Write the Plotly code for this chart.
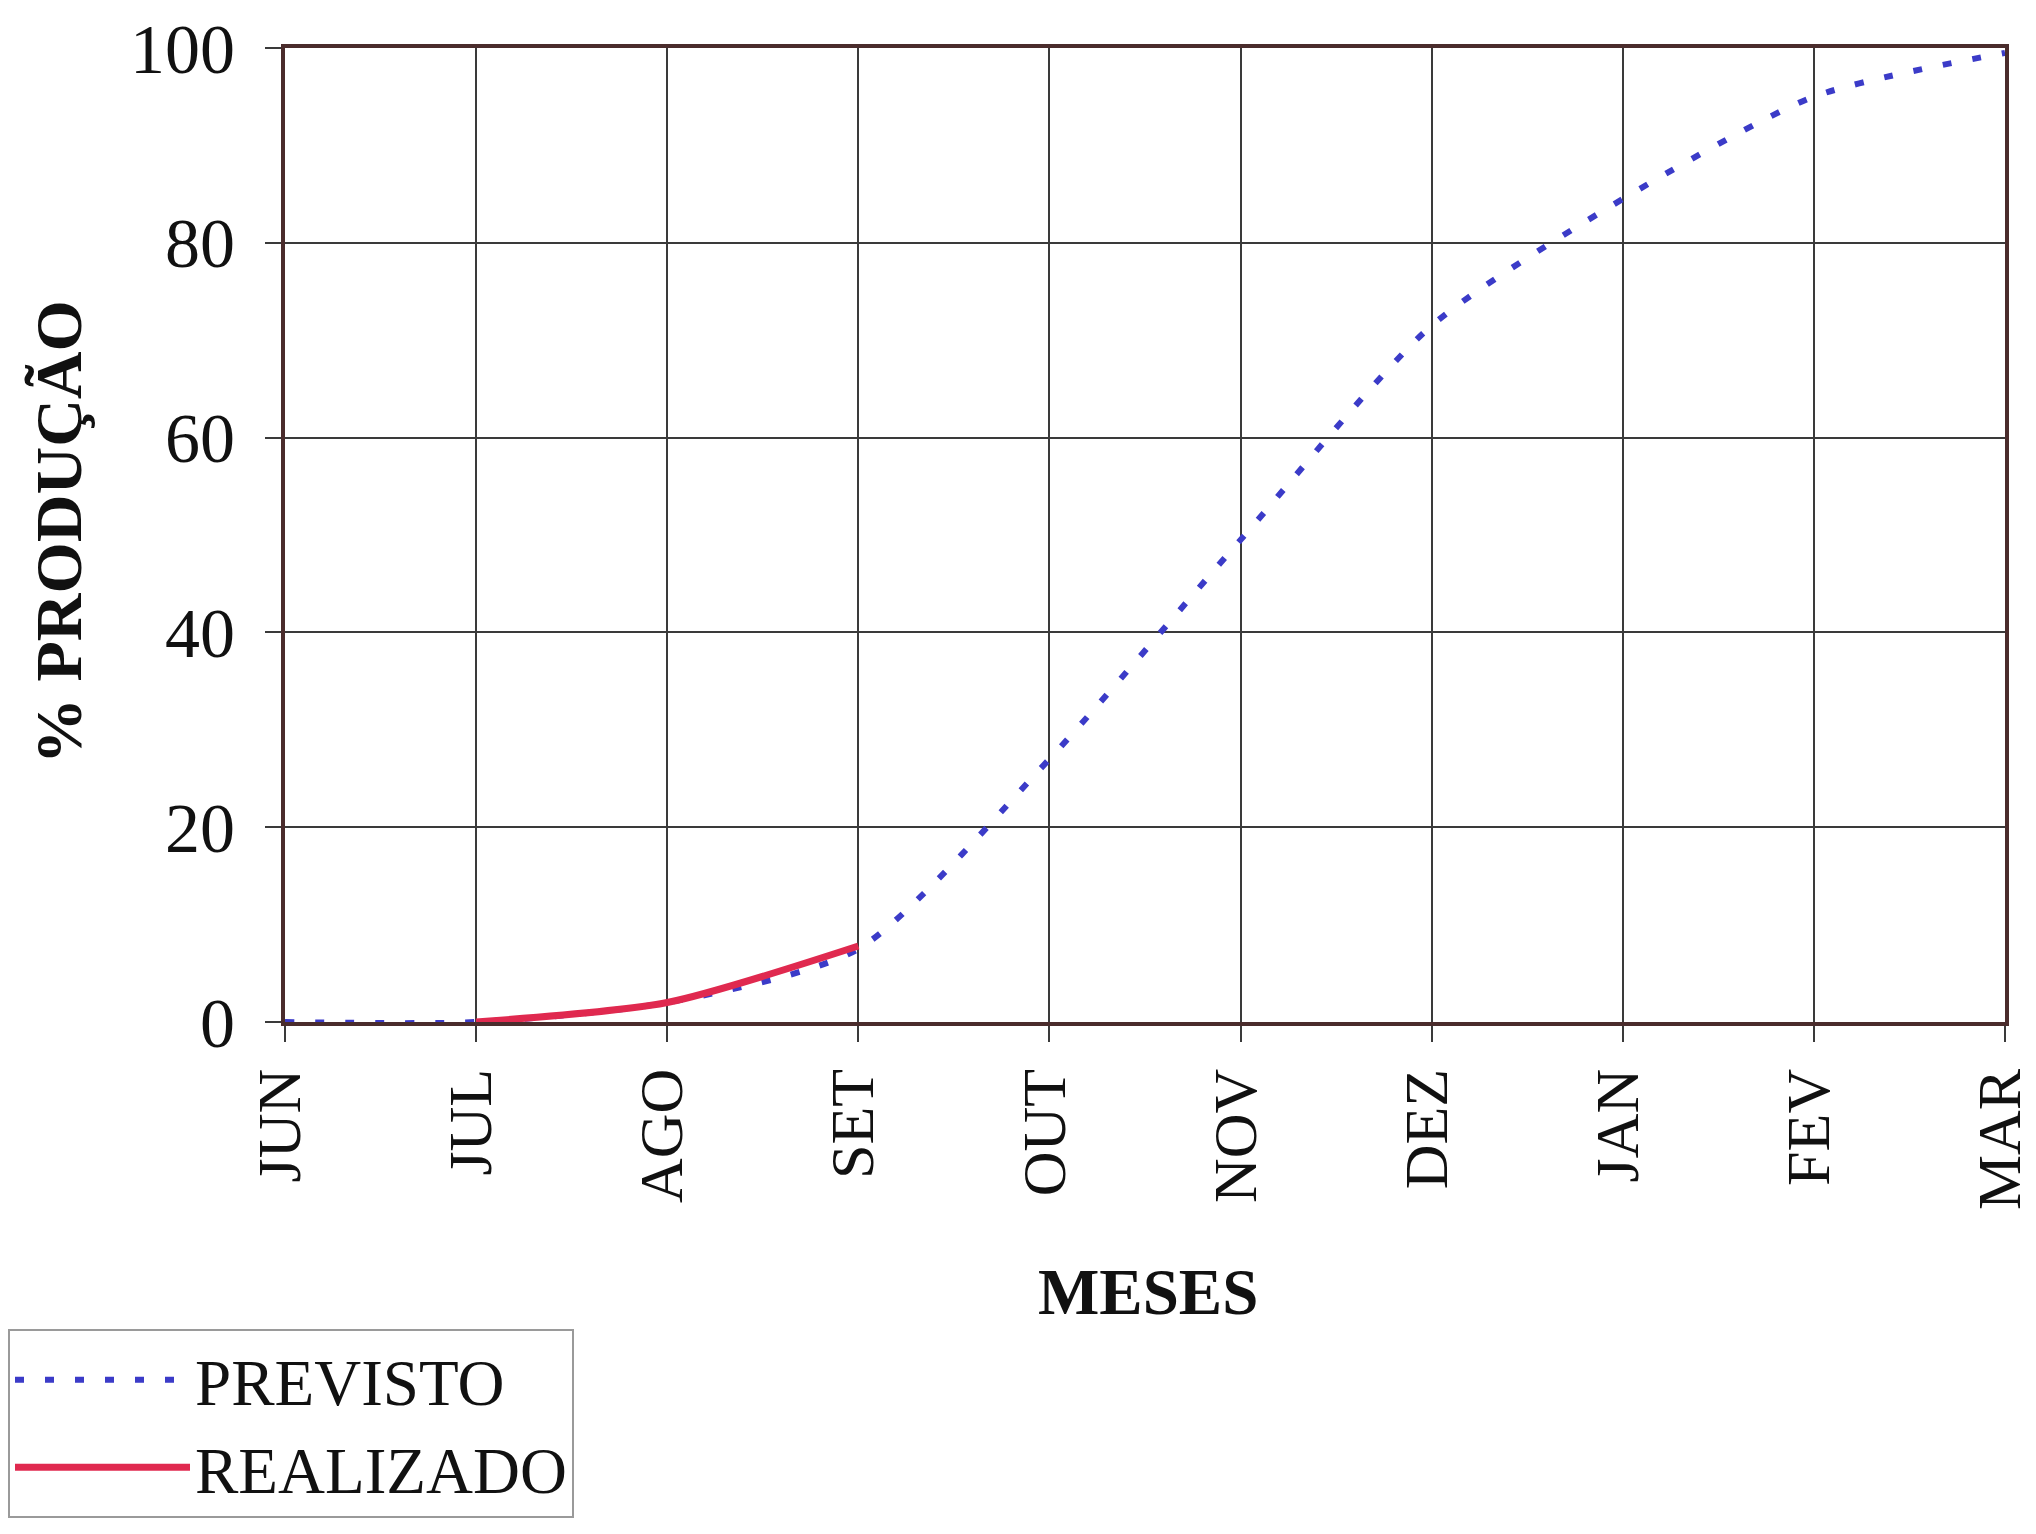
import plotly.graph_objects as go

meses = ["JUN", "JUL", "AGO", "SET", "OUT", "NOV", "DEZ", "JAN", "FEV", "MAR"]
previsto = [0, 0, 2, 7.5, 27, 49.5, 71.5, 84.5, 95, 99.5]
realizado_meses = ["JUL", "AGO", "SET"]
realizado = [0, 2, 7.8]
yticks = [0, 20, 40, 60, 80, 100]

FONT = "Liberation Serif"
GRID = "#3a3a3a"
FRAME = "#4a2c2c"

# page body has an 8px margin, so the figure is drawn 16px smaller
W, H = 2020, 1518
L, T = 277, 40
R, B = 23, 504
PW, PH = W - L - R, H - T - B
OFF = 8  # page offset


def px_to_paper_x(px):
    return (px - OFF - L) / PW


def px_to_paper_y(py):
    return (T + PH - (py - OFF)) / PH


fig = go.Figure()
fig.add_trace(go.Scatter(
    x=meses, y=previsto, mode="lines", name="PREVISTO",
    line=dict(color="#3b3bc8", width=6, dash="9px,21px", shape="spline", smoothing=0.7),
))
fig.add_trace(go.Scatter(
    x=realizado_meses, y=realizado, mode="lines", name="REALIZADO",
    line=dict(color="#e0294f", width=7, shape="spline", smoothing=0.7),
))

fig.update_layout(
    width=W, height=H,
    margin=dict(l=L, r=R, t=T, b=B, autoexpand=False),
    paper_bgcolor="white", plot_bgcolor="white",
    font=dict(family=FONT, size=66, color="#111111"),
    showlegend=True,
    legend=dict(
        xref="container", yref="container", x=0.0, y=1 - (1329 - OFF) / H,
        xanchor="left", yanchor="top",
        bgcolor="white", bordercolor="#9a9a9a", borderwidth=2,
        font=dict(family=FONT, size=65, color="#111111"),
        itemwidth=175, tracegroupgap=0,
    ),
    xaxis=dict(
        type="category", categoryorder="array", categoryarray=meses,
        range=[0, len(meses) - 1],
        showgrid=True, gridcolor=GRID, gridwidth=1.5,
        showline=True, linecolor=FRAME, linewidth=4, mirror=True,
        ticks="outside", ticklen=16, tickwidth=1.5, tickcolor=GRID,
        tickangle=-90, tickfont=dict(family=FONT, size=62),
        ticklabelstandoff=2, ticklabelshift=-5,
        zeroline=False,
    ),
    yaxis=dict(
        range=[0, 100], tickvals=yticks,
        showgrid=True, gridcolor=GRID, gridwidth=1.5,
        showline=True, linecolor=FRAME, linewidth=4, mirror=True,
        ticks="outside", ticklen=16, tickwidth=1.5, tickcolor=GRID,
        tickfont=dict(family=FONT, size=70),
        ticklabelstandoff=16,
        zeroline=False,
    ),
    annotations=[
        dict(text="<b>% PRODUÇÃO</b>", xref="paper", yref="paper",
             x=px_to_paper_x(58), y=px_to_paper_y(532), textangle=-90,
             showarrow=False, xanchor="center", yanchor="middle",
             font=dict(family=FONT, size=66, color="#111111")),
        dict(text="<b>MESES</b>", xref="paper", yref="paper",
             x=px_to_paper_x(1148), y=px_to_paper_y(1292),
             showarrow=False, xanchor="center", yanchor="middle",
             font=dict(family=FONT, size=65, color="#111111")),
    ],
)

fig.write_html("out.html")
